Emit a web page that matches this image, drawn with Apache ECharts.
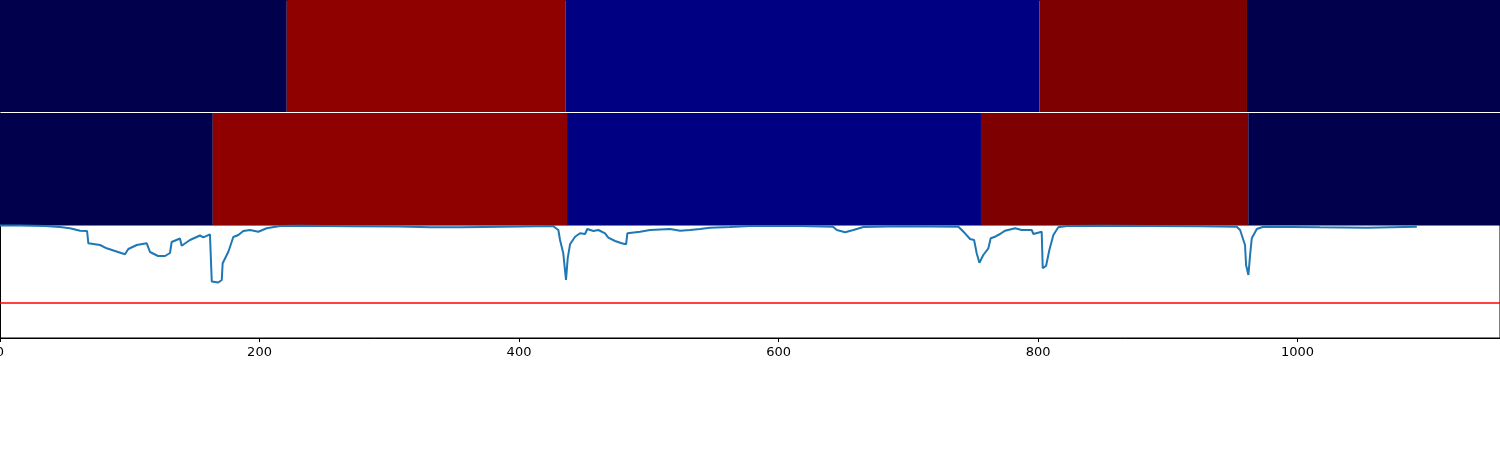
<!DOCTYPE html>
<html>
<head>
<meta charset="utf-8">
<script src="https://cdn.jsdelivr.net/npm/echarts@6/dist/echarts.min.js"></script>
<style>
html,body{margin:0;padding:0;background:#fff;}
#chart{width:1500px;height:450px;}
</style>
</head>
<body>
<div id="chart"></div>
<script>
// ---- data ----
const xMax = 1156;
const xTicks = [0, 200, 400, 600, 800, 1000];

const topStart = [0, 221, 436, 801, 961];
const topEnd   = [221, 436, 801, 961, 1156];
const topState = [0, 2, 1, 3, 0];

const midStart = [0, 164, 437, 756, 962];
const midEnd   = [164, 437, 756, 962, 1156];
const midState = [0, 2, 1, 3, 0];

const lineX = [0, 15.4, 34.7, 46.2, 53.9, 61.7, 67.1, 68.1, 77.1, 82.2, 88.6, 96.3, 98.9, 105.4, 113.1,
  115.6, 121.8, 127.2, 131.0, 132.3, 138.7, 140.0, 146.4, 154.1, 156.7, 161.8, 163.2, 168.2, 170.9, 171.6,
  176.0, 179.8, 183.7, 187.5, 192.7, 199.1, 205.5, 215.8, 231.2, 269.7, 308.3, 331.4, 354.5, 372.3, 400.8,
  426.2, 430.3, 431.6, 434.1, 436.2, 437.5, 439.3, 443.2, 447.0, 450.9, 452.6, 457.3, 461.1, 466.3, 468.8,
  474.0, 479.1, 482.5, 483.5, 493.3, 501.0, 516.4, 524.1, 531.8, 539.5, 547.2, 562.6, 578.0, 616.6, 642.0,
  644.9, 651.3, 657.7, 665.4, 693.6, 738.6, 743.7, 747.6, 750.7, 752.7, 754.8, 757.8, 761.7, 763.5, 766.9,
  770.7, 774.6, 782.3, 787.4, 795.1, 796.4, 802.8, 803.6, 806.2, 808.7, 811.8, 815.6, 822.1, 847.8, 924.9,
  953.1, 955.7, 959.5, 960.3, 962.1, 963.4, 964.7, 968.6, 973.6, 1017.3, 1053.3, 1091.9];
const lineY = [-0.05, -0.06, -0.1, -0.2, -0.33, -0.57, -0.6, -1.83, -2.0, -2.33, -2.6, -2.93, -2.4, -2.0, -1.83,
  -2.7, -3.1, -3.1, -2.8, -1.7, -1.35, -2.07, -1.5, -1.05, -1.23, -0.93, -5.65, -5.75, -5.5, -3.83,
  -2.67, -1.2, -1.0, -0.6, -0.5, -0.67, -0.33, -0.1, -0.08, -0.12, -0.15, -0.22, -0.23, -0.2, -0.15,
  -0.1, -0.5, -1.5, -2.83, -5.5, -3.33, -1.93, -1.17, -0.83, -0.9, -0.4, -0.6, -0.5, -0.83, -1.27,
  -1.6, -1.83, -1.93, -0.83, -0.67, -0.5, -0.4, -0.57, -0.5, -0.4, -0.27, -0.2, -0.1, -0.1, -0.17,
  -0.5, -0.73, -0.5, -0.2, -0.13, -0.17, -0.83, -1.4, -1.5, -2.83, -3.77, -3.0, -2.33, -1.33, -1.17,
  -0.9, -0.57, -0.33, -0.5, -0.5, -0.9, -0.67, -4.33, -4.07, -2.5, -1.0, -0.23, -0.1, -0.08, -0.12,
  -0.17, -0.5, -2.0, -4.0, -5.0, -3.0, -1.33, -0.4, -0.17, -0.23, -0.27, -0.17];
const yMin = -11.3;
const yMax = 0;
const threshold = -7.8;

// ---- styles ----
const stateColors = ['#00004c', '#000082', '#8f0000', '#7f0000'];
const font = 'DejaVu Sans';

function segData(s, e, c) { return s.map((v, i) => [v, e[i], c[i]]); }

function renderSeg(params, api) {
  const p0 = api.coord([api.value(0), 1]);
  const p1 = api.coord([api.value(1), 0]);
  return {
    type: 'rect',
    shape: { x: p0[0], y: p0[1], width: p1[0] - p0[0], height: p1[1] - p0[1] },
    style: { fill: stateColors[api.value(2)] }
  };
}

const chart = echarts.init(document.getElementById('chart'), null, { renderer: 'canvas' });
chart.setOption({
  animation: false,
  backgroundColor: '#ffffff',
  grid: [
    { left: 0, top: 0, width: 1500, height: 112, containLabel: false, outerBoundsMode: 'none' },
    { left: 0, top: 113, width: 1500, height: 112, containLabel: false, outerBoundsMode: 'none' },
    { left: 0, top: 225, width: 1500, height: 113, containLabel: false, outerBoundsMode: 'none',
      show: true, borderColor: '#000', borderWidth: 1, backgroundColor: 'transparent' }
  ],
  xAxis: [
    { gridIndex: 0, type: 'value', min: 0, max: xMax, position: 'top',
      axisLine: { show: true, onZero: false, lineStyle: { color: '#000', width: 1 } },
      axisTick: { show: false }, axisLabel: { show: false }, splitLine: { show: false } },
    { gridIndex: 1, type: 'value', min: 0, max: xMax, show: false },
    { gridIndex: 2, type: 'value', min: 0, max: xMax, interval: 200,
      axisLine: { show: true, onZero: false, lineStyle: { color: '#000', width: 1 } },
      axisTick: { show: true, length: 4, lineStyle: { color: '#000', width: 1 } },
      axisLabel: { show: true, color: '#000', fontSize: 13, fontFamily: font, margin: 8,
        showMaxLabel: false,
        formatter: v => (xTicks.indexOf(v) >= 0 ? String(v) : '') },
      splitLine: { show: false } }
  ],
  yAxis: [
    { gridIndex: 0, type: 'value', min: 0, max: 1,
      axisLine: { show: true, onZero: false, lineStyle: { color: '#000', width: 1 } },
      axisTick: { show: false }, axisLabel: { show: false }, splitLine: { show: false } },
    { gridIndex: 1, type: 'value', min: 0, max: 1, show: false },
    { gridIndex: 2, type: 'value', min: yMin, max: yMax,
      axisLine: { show: true, onZero: false, lineStyle: { color: '#000', width: 1 } },
      axisTick: { show: false }, axisLabel: { show: false }, splitLine: { show: false } }
  ],
  series: [
    { type: 'custom', xAxisIndex: 0, yAxisIndex: 0, renderItem: renderSeg,
      encode: { x: [0, 1] }, data: segData(topStart, topEnd, topState) },
    { type: 'custom', xAxisIndex: 1, yAxisIndex: 1, renderItem: renderSeg,
      encode: { x: [0, 1] }, data: segData(midStart, midEnd, midState) },
    { type: 'line', xAxisIndex: 2, yAxisIndex: 2, showSymbol: false, symbol: 'none',
      lineStyle: { color: '#1f77b4', width: 2 },
      data: lineX.map((x, i) => [x, lineY[i]]),
      markLine: { silent: true, symbol: ['none', 'none'], label: { show: false },
        lineStyle: { color: '#ff0000', width: 1.5, type: 'solid' },
        data: [{ yAxis: threshold }] } }
  ]
});
</script>
</body>
</html>
